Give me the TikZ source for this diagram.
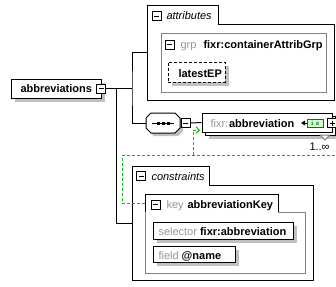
\documentclass[tikz,border=0pt]{standalone}
\usepackage{fontspec}
\setmainfont{Liberation Sans}
\usetikzlibrary{fit,arrows.meta}
\definecolor{shadowc}{RGB}{192,192,192}
\definecolor{labelc}{RGB}{150,150,150}
\definecolor{grpc}{RGB}{128,128,128}
\definecolor{refc}{RGB}{0,190,0}
\definecolor{iconfill}{RGB}{204,255,204}
\definecolor{iconline}{RGB}{0,128,0}
\begin{document}
\begin{tikzpicture}[x=0.75pt,y=-0.75pt,line width=0.75pt,
  txt/.style={anchor=base west,inner sep=0pt,font=\fontsize{8.25}{10}\selectfont},
  area/.style={inner sep=0pt},
  shadowbox/.style={fill=shadowc,draw=none},
  btnbase/.style={draw,fill=white,minimum size=6.75pt,inner sep=0pt,line width=0.75pt},
  btnminus/.style={btnbase,path picture={
      \draw[line width=0.75pt] ([xshift=1.5pt]path picture bounding box.west) -- ([xshift=-1.5pt]path picture bounding box.east);}},
  btnplus/.style={btnbase,path picture={
      \draw[line width=0.75pt] ([xshift=1.5pt]path picture bounding box.west) -- ([xshift=-1.5pt]path picture bounding box.east);
      \draw[line width=0.75pt] ([yshift=-1.5pt]path picture bounding box.north) -- ([yshift=1.5pt]path picture bounding box.south);}},
  refline/.style={draw=refc,dash pattern=on 2.25pt off 1.5pt},
]
\useasboundingbox[fill=white] (0,0) rectangle (336,286);

% ---- root element: abbreviations
\fill[shadowbox] (15,83) rectangle (105,102);
\node[area,fit={(11,79)(101,98)},draw,fill=white] (abbr) {};
\node[txt,font=\fontsize{8.25}{10}\selectfont\bfseries] (abbrtxt) at (20,92.5) {abbreviations};
\node[btnminus] (abbrbtn) at (101,88.5) {};

% ---- attributes compartment
\draw[fill=white] (147,100) -- (147,5) -- (218,5) -- (218,24) -- (334,24) -- (334,100) -- cycle;
\node[area,fit={(147,5)(334,100)}] (attrs) {};
\node[btnminus] (attrbtn) at (156.5,16) {};
\node[txt,font=\fontsize{8.25}{10}\selectfont\itshape] (attrtxt) at (166,19.5) {attributes};

% attribute group
\node[area,fit={(161,33)(326,92)},draw=grpc] (grp) {};
\node[btnminus] (grpbtn) at (169.5,44.5) {};
\node[txt,text=labelc] (grplbl) at (180,48) {grp};
\node[txt,font=\fontsize{8.25}{10}\selectfont\bfseries] (grpname) at (203,48) {fixr:containerAttribGrp};

% optional attribute latestEP
\fill[shadowbox] (172,66) rectangle (229,86);
\node[area,fit={(168,62)(225,82)},draw,dash pattern=on 2.25pt off 1.5pt,fill=white] (latest) {};
\node[txt,font=\fontsize{8.25}{10}\selectfont\bfseries] (latesttxt) at (178,77) {latestEP};

% ---- sequence compositor
\fill[shadowbox] (154,116) -- (178,116) -- (183,121) -- (183,131) -- (178,136) -- (154,136) -- (149,131) -- (149,121) -- cycle;
\draw[fill=white] (151,113) -- (175,113) -- (180,118) -- (180,128) -- (175,133) -- (151,133) -- (146,128) -- (146,118) -- cycle;
\node[area,fit={(146,113)(180,133)}] (seq) {};
\draw (152,123) -- (174,123);
\foreach \dx in {158,163,168} \fill (\dx-1.5,121.5) rectangle (\dx+1.5,124.5);
\node[btnminus] (seqbtn) at (185.5,123) {};

% ---- repeated element fixr:abbreviation
\fill[shadowbox] (209,120) rectangle (337,139);
\draw[fill=white] (205,116) rectangle (335,135);
\node[area,fit={(202,113)(332,132)},draw,fill=white] (elem) {};
\node[txt,text=labelc] (elempfx) at (210,127.5) {fixr:};
\node[txt,font=\fontsize{8.25}{10}\selectfont\bfseries] (elemtxt) at (228.5,127.5) {abbreviation};
\node[area,fit={(307,119)(323,127)},draw=iconline,fill=iconfill] (icon) {};
\node[inner sep=0pt,font=\fontsize{5.5}{6}\selectfont\ttfamily,text=iconline!60!black] (icontxt) at (icon.center) {i\,s};
\draw[-{Triangle[length=3pt,width=3.5pt]}] (icon.west) -- (301,123);
\node[btnplus] (elembtn) at (332,123) {};
\draw[draw=grpc,fill=white] (320,135) -- (330,135) -- (325,140) -- cycle;
\node[txt] (occurs) at (309,150.5) {1..∞};

% ---- identity constraints compartment
\draw[fill=white] (132,280) -- (132,166) -- (209,166) -- (209,185) -- (313,185) -- (313,280) -- cycle;
\node[area,fit={(132,166)(313,280)}] (cons) {};
\node[btnminus] (consbtn) at (141,176) {};
\node[txt,font=\fontsize{8.25}{10}\selectfont\itshape] (constxt) at (151,180) {constraints};

% key abbreviationKey
\draw[draw=grpc] (278,212) -- (305,212) -- (305,273) -- (145,273) -- (145,212);
\draw[fill=white] (145,212) -- (145,194) -- (278,194) -- (278,212);
\node[area,fit={(145,194)(278,212)}] (keytab) {};
\node[btnminus] (keybtn) at (155.5,204.5) {};
\node[txt,text=labelc] (keylbl) at (166,208) {key};
\node[txt,font=\fontsize{8.25}{10}\selectfont\bfseries] (keyname) at (187,208) {abbreviationKey};

% selector and field
\fill[shadowbox] (157,226) rectangle (297,243);
\node[area,fit={(153,222)(293,239)},draw,fill=white] (sel) {};
\node[txt] (seltxt) at (158,235.5) {\textcolor{labelc}{selector} \textbf{fixr:abbreviation}};
\fill[shadowbox] (157,250) rectangle (239,266);
\node[area,fit={(153,246)(235,262)},draw,fill=white] (fld) {};
\node[txt] (fldtxt) at (158,259.5) {\textcolor{labelc}{field} \textbf{@name}};

% ---- connectors
\coordinate (j1) at (132,88.5);
\coordinate (j2) at (116,88.5);
\draw (abbrbtn.east) -- (j1);
\draw (attrs.west) -| (j1) |- (seq.west);
\draw (j2) |- (cons.west);
\draw (seqbtn.east) -- (elem.west);

% key reference to the selected element
\coordinate (g1) at (122,155);
\coordinate (gend) at (336,155);
\coordinate (g2) at (193,155);
\coordinate (garr) at (200,130);
\draw[refline] (keytab.west) -| (g1) -- (gend);
\draw[refline,-{Straight Barb[length=2.5pt,width=5pt]}] (g2) |- (garr);
\end{tikzpicture}
\end{document}
